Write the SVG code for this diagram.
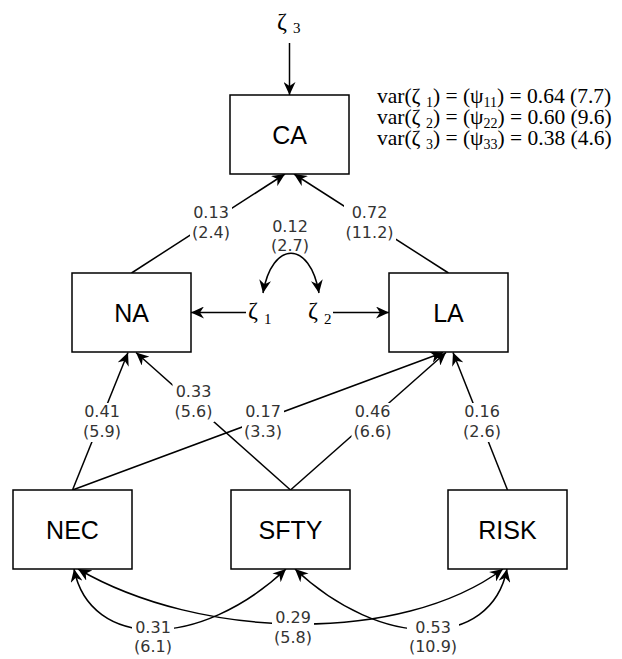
<svg xmlns="http://www.w3.org/2000/svg" width="622" height="659" viewBox="0 0 622 659">
<style>
.box{fill:#fff;stroke:#000;stroke-width:1.5}
.bl{font-family:"Liberation Sans",Arial,sans-serif;font-size:25px;text-anchor:middle;fill:#000}
.ln{fill:none;stroke:#000;stroke-width:1.5}
.lb{font-family:"DejaVu Sans",sans-serif;font-size:16px;text-anchor:middle;fill:#333}
.bg{fill:#fff}
.gr{font-family:"Liberation Serif","Times New Roman",serif;font-size:24px;fill:#000}
.sub{font-size:15px}
.var{font-family:"Liberation Serif","Times New Roman",serif;font-size:21.5px;fill:#000}
.vs{font-size:14px}
</style>
<defs>
<marker id="ah" viewBox="0 0 13 12" refX="13" refY="6" markerWidth="13" markerHeight="12" markerUnits="userSpaceOnUse" orient="auto-start-reverse">
<path d="M0,0 L13,6 L0,12 L4,6 z" fill="#000"/>
</marker>
</defs>

<g id="connectors">
<line class="ln" x1="289.5" y1="43" x2="289.5" y2="95" marker-end="url(#ah)"/>
<line class="ln" x1="131.5" y1="273" x2="285" y2="174" marker-end="url(#ah)"/>
<line class="ln" x1="448.5" y1="273" x2="294" y2="174" marker-end="url(#ah)"/>
<line class="ln" x1="246" y1="312.5" x2="191" y2="312.5" marker-end="url(#ah)"/>
<line class="ln" x1="333" y1="312.5" x2="389" y2="312.5" marker-end="url(#ah)"/>
<path class="ln" d="M263,293 C272,240 310,240 319,293" marker-start="url(#ah)" marker-end="url(#ah)"/>
<line class="ln" x1="72.5" y1="490" x2="128" y2="352.5" marker-end="url(#ah)"/>
<line class="ln" x1="290.5" y1="490" x2="136" y2="352.5" marker-end="url(#ah)"/>
<line class="ln" x1="72.5" y1="490" x2="443" y2="352.5" marker-end="url(#ah)"/>
<line class="ln" x1="290.5" y1="490" x2="446" y2="352.5" marker-end="url(#ah)"/>
<line class="ln" x1="507.5" y1="490" x2="453" y2="352.5" marker-end="url(#ah)"/>
<path class="ln" d="M74,569 C90,650 200,650 286,569" marker-start="url(#ah)" marker-end="url(#ah)"/>
<path class="ln" d="M78,569 C200,640 400,645 503,569" marker-start="url(#ah)" marker-end="url(#ah)"/>
<path class="ln" d="M295,569 C381,650 491,650 507,569" marker-start="url(#ah)" marker-end="url(#ah)"/>
</g>

<g id="labels">
<rect class="bg" x="190" y="204" width="42" height="39"/>
<text class="lb" x="211" y="218">0.13</text><text class="lb" x="211" y="238">(2.4)</text>
<rect class="bg" x="344" y="204" width="52" height="39"/>
<text class="lb" x="369.5" y="218">0.72</text><text class="lb" x="369.5" y="238">(11.2)</text>
<text class="lb" x="290" y="232">0.12</text><text class="lb" x="290" y="251">(2.7)</text>
<rect class="bg" x="81" y="403" width="42" height="39"/>
<text class="lb" x="102" y="417">0.41</text><text class="lb" x="102" y="437">(5.9)</text>
<rect class="bg" x="172.5" y="383" width="42" height="39"/>
<text class="lb" x="193.5" y="397">0.33</text><text class="lb" x="193.5" y="417">(5.6)</text>
<rect class="bg" x="242" y="403" width="42" height="39"/>
<text class="lb" x="263" y="417">0.17</text><text class="lb" x="263" y="437">(3.3)</text>
<rect class="bg" x="351.5" y="403" width="42" height="39"/>
<text class="lb" x="372.5" y="417">0.46</text><text class="lb" x="372.5" y="437">(6.6)</text>
<rect class="bg" x="461" y="403" width="42" height="39"/>
<text class="lb" x="482" y="417">0.16</text><text class="lb" x="482" y="437">(2.6)</text>
<rect class="bg" x="132" y="619" width="42" height="38"/>
<text class="lb" x="153" y="633">0.31</text><text class="lb" x="153" y="652">(6.1)</text>
<rect class="bg" x="272" y="609" width="42" height="39"/>
<text class="lb" x="293" y="623">0.29</text><text class="lb" x="293" y="643">(5.8)</text>
<rect class="bg" x="407" y="619" width="52" height="38"/>
<text class="lb" x="433" y="633">0.53</text><text class="lb" x="433" y="652">(10.9)</text>
</g>

<g id="zeta3"><text class="gr" x="277" y="29">ζ <tspan class="sub" dy="4">3</tspan></text></g>
<g id="zeta1"><text class="gr" x="248" y="318">ζ <tspan class="sub" dy="6">1</tspan></text></g>
<g id="zeta2"><text class="gr" x="308" y="318">ζ <tspan class="sub" dy="6">2</tspan></text></g>

<g id="variances">
<text class="var" x="377" y="103">var(ζ <tspan class="vs" dy="4">1</tspan><tspan dy="-4">) = (ψ</tspan><tspan class="vs" dy="4">11</tspan><tspan dy="-4">) = 0.64 (7.7)</tspan></text>
<text class="var" x="377" y="124">var(ζ <tspan class="vs" dy="4">2</tspan><tspan dy="-4">) = (ψ</tspan><tspan class="vs" dy="4">22</tspan><tspan dy="-4">) = 0.60 (9.6)</tspan></text>
<text class="var" x="377" y="145">var(ζ <tspan class="vs" dy="4">3</tspan><tspan dy="-4">) = (ψ</tspan><tspan class="vs" dy="4">33</tspan><tspan dy="-4">) = 0.38 (4.6)</tspan></text>
</g>

<g id="CA"><rect class="box" x="230" y="95" width="119" height="79"/><text class="bl" x="289.5" y="144">CA</text></g>
<g id="NA"><rect class="box" x="72" y="273" width="119" height="79"/><text class="bl" x="131.5" y="322">NA</text></g>
<g id="LA"><rect class="box" x="389" y="273" width="119" height="79"/><text class="bl" x="448.5" y="322">LA</text></g>
<g id="NEC"><rect class="box" x="13" y="490" width="119" height="79"/><text class="bl" x="72.5" y="539">NEC</text></g>
<g id="SFTY"><rect class="box" x="231" y="490" width="119" height="79"/><text class="bl" x="290.5" y="539">SFTY</text></g>
<g id="RISK"><rect class="box" x="448" y="490" width="119" height="79"/><text class="bl" x="507.5" y="539">RISK</text></g>
</svg>
